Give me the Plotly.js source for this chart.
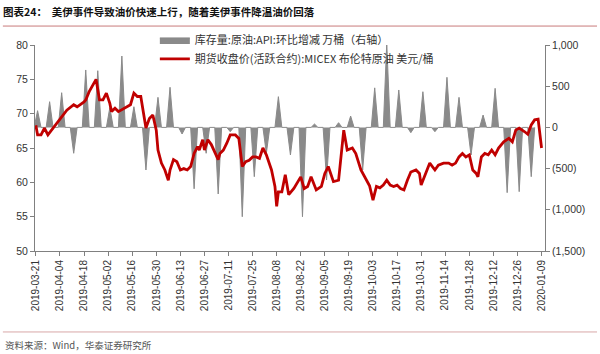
<!DOCTYPE html>
<html>
<head>
<meta charset="utf-8">
<script src="https://cdn.plot.ly/plotly-3.0.1.min.js"></script>
<style>
html,body{margin:0;padding:0;background:#fff;}
#chart{width:600px;height:354px;}
</style>
</head>
<body>
<div id="chart"></div>
<script>
// ---- Data ----
const titleText = "图表24：  美伊事件导致油价快速上行，随着美伊事件降温油价回落";
const sourceText = "资料来源：Wind，华泰证券研究所";
const inventoryName = "库存量:原油:API:环比增减 万桶（右轴）";
const priceName = "期货收盘价(活跃合约):MICEX 布伦特原油 美元/桶";

// Weekly API crude inventory change (10k barrels), right axis
const spikeDates = [
"2019-03-22","2019-03-29","2019-04-05","2019-04-12","2019-04-19","2019-04-26","2019-05-03",
"2019-05-10","2019-05-17","2019-05-24","2019-05-31","2019-06-07","2019-06-14","2019-06-21",
"2019-06-28","2019-07-05","2019-07-12","2019-07-19","2019-07-26","2019-08-02","2019-08-09",
"2019-08-16","2019-08-23","2019-08-30","2019-09-06","2019-09-13","2019-09-20","2019-09-27",
"2019-10-04","2019-10-11","2019-10-18","2019-10-25","2019-11-01","2019-11-08","2019-11-15",
"2019-11-22","2019-11-29","2019-12-06","2019-12-13","2019-12-20","2019-12-27","2020-01-03"];
const inventory = [
203,312,421,-314,697,688,240,
866,251,-517,365,487,-80,-745,
-314,-808,-52,-1084,-598,-314,373,
-335,-1084,41,-638,57,138,-517,
480,1025,454,-64,433,-52,608,
365,-335,150,474,-792,-780,-598];

// Brent (MICEX) close, USD/bbl, left axis
const priceDates = [
"2019-03-21","2019-03-22","2019-03-24","2019-03-26","2019-03-28","2019-03-31","2019-04-04","2019-04-08",
"2019-04-12","2019-04-14","2019-04-18","2019-04-19","2019-04-21","2019-04-23","2019-04-25","2019-04-27",
"2019-04-29","2019-05-01","2019-05-03","2019-05-04","2019-05-06","2019-05-08","2019-05-10","2019-05-13",
"2019-05-15","2019-05-17","2019-05-19","2019-05-21","2019-05-22","2019-05-24","2019-05-26","2019-05-28",
"2019-05-30","2019-05-31","2019-06-02","2019-06-04","2019-06-06","2019-06-07","2019-06-09","2019-06-11",
"2019-06-13","2019-06-15","2019-06-17","2019-06-19","2019-06-21","2019-06-23","2019-06-24","2019-06-26",
"2019-06-27","2019-06-29","2019-07-01","2019-07-03","2019-07-05","2019-07-06","2019-07-08","2019-07-10",
"2019-07-12","2019-07-15","2019-07-17","2019-07-19","2019-07-21","2019-07-23","2019-07-25","2019-07-27",
"2019-07-29","2019-07-31","2019-08-02","2019-08-05","2019-08-07","2019-08-08","2019-08-09","2019-08-11",
"2019-08-13","2019-08-15","2019-08-18","2019-08-22","2019-08-24","2019-08-26","2019-08-28","2019-08-31",
"2019-09-03","2019-09-05","2019-09-07","2019-09-10","2019-09-13","2019-09-16","2019-09-18","2019-09-21",
"2019-09-23","2019-09-26","2019-09-28","2019-10-01","2019-10-03","2019-10-05","2019-10-07","2019-10-09",
"2019-10-11","2019-10-13","2019-10-15","2019-10-17","2019-10-19","2019-10-21","2019-10-23","2019-10-25",
"2019-10-28","2019-10-30","2019-10-31","2019-11-02","2019-11-05","2019-11-08","2019-11-10","2019-11-13",
"2019-11-16","2019-11-18","2019-11-20","2019-11-22","2019-11-24","2019-11-26","2019-11-28","2019-11-30",
"2019-12-02","2019-12-03","2019-12-05","2019-12-07","2019-12-09","2019-12-11","2019-12-13","2019-12-15",
"2019-12-18","2019-12-21","2019-12-23","2019-12-25","2019-12-27","2019-12-30","2020-01-01","2020-01-03",
"2020-01-05","2020-01-07","2020-01-09"];
const priceValues = [
68.3,66.9,66.9,67.9,66.9,67.9,69.3,70.5,
71.3,71.0,71.7,72.0,73.2,74.2,75.0,72.0,
72.0,73.0,71.5,70.3,70.8,70.3,70.6,71.0,
71.3,73.0,72.5,72.5,71.0,67.9,69.3,69.8,
67.6,64.7,62.8,61.8,60.3,61.8,63.3,63.0,
61.8,62.0,61.8,62.3,64.2,65.2,64.7,66.2,
64.7,66.2,65.5,64.3,63.3,64.2,64.7,65.7,
66.9,66.9,66.4,62.3,63.0,63.2,63.7,63.7,
63.5,65.0,64.0,61.8,59.4,56.5,58.6,58.6,
61.1,58.2,59.1,60.8,59.1,59.4,60.8,58.9,
59.4,61.3,62.3,60.1,60.3,67.6,64.7,65.0,
64.2,61.8,60.8,59.5,57.4,59.4,59.2,59.6,
60.3,59.6,59.4,59.6,59.1,58.9,60.3,61.5,
61.8,61.3,59.6,60.8,62.8,61.8,62.5,62.8,
62.8,62.5,62.8,63.7,64.2,63.7,64.0,61.8,
61.3,60.8,63.7,64.2,64.0,64.7,64.0,65.0,
65.9,66.4,65.9,67.6,67.9,67.4,67.0,68.35,
69.1,69.2,65.0];

// Axis tick labels
const xTickLabels = ["2019-03-21","2019-04-04","2019-04-18","2019-05-02","2019-05-16","2019-05-30",
"2019-06-13","2019-06-27","2019-07-11","2019-07-25","2019-08-08","2019-08-22","2019-09-05",
"2019-09-19","2019-10-03","2019-10-17","2019-10-31","2019-11-14","2019-11-28","2019-12-12",
"2019-12-26","2020-01-09"];
const leftTicks = [50,55,60,65,70,75,80];
const rightTicks = [-1500,-1000,-500,0,500,1000];
const rightTickLabels = ["(1,500)","(1,000)","(500)","0","500","1,000"];

// ---- Build spike (triangle) outline from weekly values ----
const DAY = 86400000;
const HALF = 2; // days on each side of a weekly value
function shiftDate(d, n) {
  const t = new Date(d + "T00:00:00Z").getTime() + n * DAY;
  return new Date(t).toISOString().replace("T", " ").slice(0, 19);
}
const invX = [], invY = [];
spikeDates.forEach((d, i) => {
  invX.push(shiftDate(d, -HALF)); invY.push(0);
  invX.push(d); invY.push(inventory[i]);
  invX.push(shiftDate(d, HALF)); invY.push(0);
});

const traces = [
  {
    x: invX, y: invY, name: inventoryName, type: "scatter", mode: "lines",
    fill: "tozeroy", fillcolor: "#8a8a8a",
    line: {color: "#8a8a8a", width: 1}, yaxis: "y", hoverinfo: "skip"
  },
  {
    x: priceDates, y: priceValues, name: priceName, type: "scatter", mode: "lines",
    line: {color: "#c00000", width: 2.8}, yaxis: "y2"
  }
];

const axisGray = "#808080";
const tickFont = {family: "Liberation Sans, Arial, sans-serif", size: 10.5, color: "#333"};
const cjk = "Noto Sans CJK SC, sans-serif";

const layout = {
  width: 600, height: 354,
  margin: {l: 35, r: 55, t: 45, b: 103},
  paper_bgcolor: "#fff", plot_bgcolor: "#fff",
  showlegend: true,
  title: {
    text: "<b>" + titleText + "</b>",
    x: 0.005, xref: "container", xanchor: "left",
    y: 0.966, yref: "container", yanchor: "middle",
    font: {family: cjk, size: 10.5, color: "#111"}
  },
  legend: {
    x: 0.235, y: 1.095, xanchor: "left", yanchor: "top",
    bgcolor: "rgba(0,0,0,0)", itemwidth: 30, tracegroupgap: 0,
    font: {family: cjk, size: 11, color: "#333"}
  },
  xaxis: {
    type: "date",
    range: ["2019-03-20 12:00", "2020-01-11"],
    tickvals: xTickLabels, ticktext: xTickLabels,
    tickangle: -90, tickfont: {family: "Liberation Sans, Arial, sans-serif", size: 10, color: "#333"},
    ticks: "outside", ticklen: 4, tickcolor: axisGray,
    showline: true, linecolor: axisGray, linewidth: 1,
    showgrid: false, zeroline: false, anchor: "y2"
  },
  yaxis: {
    side: "right", range: [-1500, 1000],
    tickvals: rightTicks, ticktext: rightTickLabels, tickfont: tickFont,
    ticks: "outside", ticklen: 4, tickcolor: axisGray,
    showline: true, linecolor: axisGray, linewidth: 1,
    showgrid: false, zeroline: false, anchor: "x"
  },
  yaxis2: {
    side: "left", overlaying: "y", range: [50, 80],
    tickvals: leftTicks, tickfont: tickFont,
    ticks: "outside", ticklen: 4, tickcolor: axisGray,
    showline: true, linecolor: axisGray, linewidth: 1,
    showgrid: false, zeroline: false, anchor: "x"
  },
  shapes: [
    {type: "line", xref: "paper", yref: "paper", x0: -0.063, x1: 1.102, y0: 1.092, y1: 1.092,
     line: {color: "#c87a7a", width: 1}},
    {type: "line", xref: "paper", yref: "paper", x0: -0.063, x1: 1.102, y0: -0.393, y1: -0.393,
     line: {color: "#d8a8a8", width: 1}}
  ],
  annotations: [
    {text: sourceText, xref: "paper", yref: "paper", x: -0.063, y: -0.456,
     xanchor: "left", yanchor: "middle", showarrow: false,
     font: {family: cjk, size: 9.5, color: "#555"}}
  ]
};

Plotly.newPlot("chart", traces, layout, {displayModeBar: false, staticPlot: true});
</script>
</body>
</html>
